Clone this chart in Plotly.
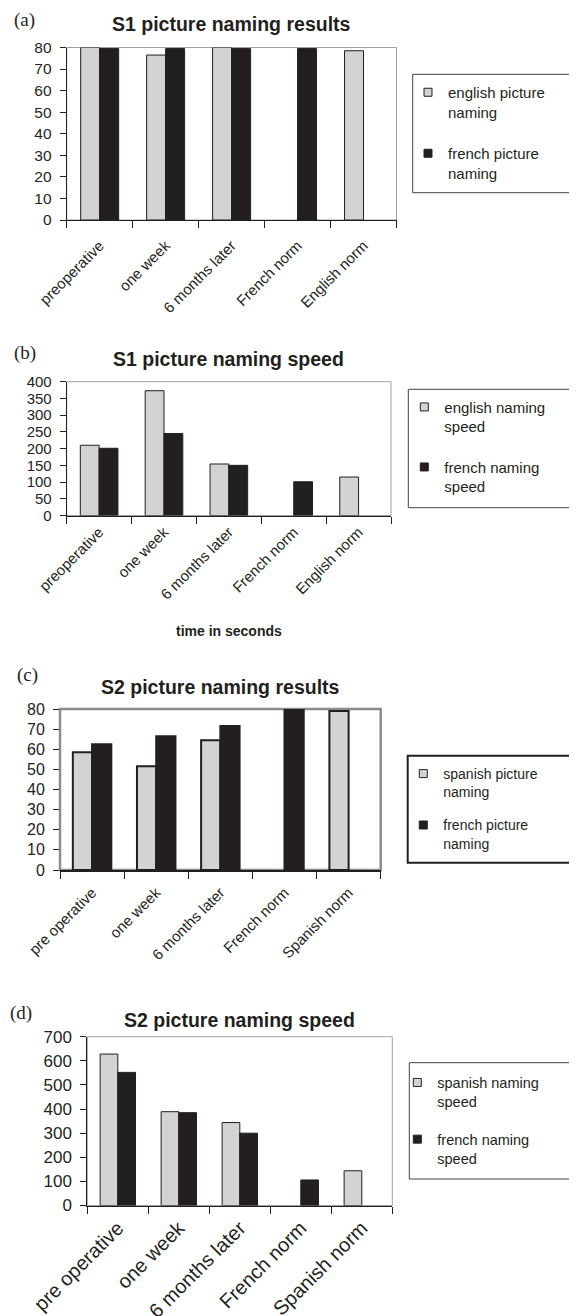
import plotly.graph_objects as go

W, H = 577, 1316
OFF = 8  # page body margin

# ---------------- data ----------------
cats_s1 = ["preoperative", "one week", "6 months later", "French norm", "English norm"]
cats_s2 = ["pre operative", "one week", "6 months later", "French norm", "Spanish norm"]

s1_english_naming = [80, 76.5, 80, None, 78.5]
s1_french_naming = [79.5, 79.5, 79.5, 79.5, None]

s1_english_speed = [210, 373, 154, None, 115]
s1_french_speed = [201, 245, 150, 101, None]

s2_spanish_naming = [58.5, 51.5, 64.5, None, 79]
s2_french_naming = [62.5, 66.5, 71.5, 80, None]

s2_spanish_speed = [628, 389, 344, None, 144]
s2_french_speed = [552, 385, 300, 106, None]

GREY = "#d1d3d4"
DARK = "#231f20"
TXT = "#231f20"
SANS = "Liberation Sans, Arial, sans-serif"
SERIF = "Liberation Serif, Times New Roman, serif"


def px_x(v):
    return (v - OFF) / W


def px_y(v):
    return 1 - (v - OFF) / H


panels = [
    dict(idx=1, cats=cats_s1, a=s1_english_naming, b=s1_french_naming,
         names=("english picture<br>naming", "french picture<br>naming"),
         box=(66.7, 47.5, 396.5, 220), yr=80, dt=10,
         title="S1 picture naming results", tx=231.6, ty=24,
         lab="(a)", lx=24, ly=20,
         leg=(412.7, 74.3, 600, 192.7), legx=408, legy=76, legf=15, lgap=19,
         ytf=15.5, xtf=15, xso=10, barw=1, border=("#a0a0a0", 1), ylinegrey=False,
         bw=0.288),
    dict(idx=2, cats=cats_s1, a=s1_english_speed, b=s1_french_speed,
         names=("english naming<br>speed", "french naming<br>speed"),
         box=(66.7, 381.7, 391, 515.5), yr=400, dt=50,
         title="S1 picture naming speed", tx=228.9, ty=358.5,
         lab="(b)", lx=24.5, ly=353,
         leg=(408.3, 389.3, 600, 507.7), legx=404.3, legy=390.7, legf=15, lgap=18,
         ytf=15, xtf=15, xso=1, barw=1, border=("#a0a0a0", 1), ylinegrey=False,
         bw=0.29),
    dict(idx=3, cats=cats_s2, a=s2_spanish_naming, b=s2_french_naming,
         names=("spanish picture<br>naming", "french picture<br>naming"),
         box=(60, 709, 380.7, 870), yr=80, dt=10,
         title="S2 picture naming results", tx=220.4, ty=686.5,
         lab="(c)", lx=27, ly=675,
         leg=(407.7, 755.7, 572.3, 862.7), legx=403.3, legy=758, legf=14, lgap=12,
         ytf=16, xtf=15, xso=6, barw=2, border=("#8c8c8c", 2.5), ylinegrey=True,
         bw=0.30),
    dict(idx=4, cats=cats_s2, a=s2_spanish_speed, b=s2_french_speed,
         names=("spanish naming<br>speed", "french naming<br>speed"),
         box=(87.3, 1036.7, 392.3, 1205.5), yr=700, dt=100,
         title="S2 picture naming speed", tx=239.8, ty=1020,
         lab="(d)", lx=20.5, ly=1013,
         leg=(409.3, 1062.7, 600, 1179), legx=397.3, legy=1066.5, legf=14.5, lgap=16,
         ytf=17, xtf=20, xso=2, barw=1, border=("#a0a0a0", 1), ylinegrey=False,
         bw=0.29),
]

fig = go.Figure()
layout = dict(
    width=W, height=H, autosize=False,
    margin=dict(l=0, r=0, t=0, b=0, autoexpand=False),
    paper_bgcolor="white", plot_bgcolor="rgba(0,0,0,0)",
    barmode="group", font=dict(family=SANS, color=TXT),
    shapes=[], annotations=[], showlegend=True,
)

for p in panels:
    i = p["idx"]
    sx = "" if i == 1 else str(i)
    xa, ya = "x" + sx, "y" + sx
    legname = "legend" + sx
    x0, y0, x1, y1 = p["box"]
    w = p["bw"]

    fig.add_trace(go.Bar(x=p["cats"], y=p["a"], xaxis=xa, yaxis=ya, width=w, offset=-w,
                         marker=dict(color=GREY, line=dict(color=DARK, width=p["barw"])),
                         showlegend=False, hoverinfo="skip"))
    fig.add_trace(go.Bar(x=p["cats"], y=p["b"], xaxis=xa, yaxis=ya, width=w, offset=0,
                         marker=dict(color=DARK, line=dict(color=DARK, width=p["barw"])),
                         showlegend=False, hoverinfo="skip"))
    # legend entries
    for nm, col, grp in ((p["names"][0], GREY, "a"), (p["names"][1], DARK, "b")):
        fig.add_trace(go.Scatter(x=[p["cats"][0]], y=[None], xaxis=xa, yaxis=ya,
                                 mode="markers", name=nm, legend=legname,
                                 legendgroup=f"{i}{grp}",
                                 marker=dict(symbol="square", size=8, color=col,
                                             line=dict(color=DARK, width=1)),
                                 hoverinfo="skip"))

    layout["xaxis" + sx] = dict(
        domain=[px_x(x0), px_x(x1)], anchor=ya, type="category",
        range=[-0.5, 4.5], showline=True, linecolor=DARK,
        linewidth=2 if i == 3 else 1, ticks="outside", tickson="boundaries",
        ticklen=7, tickcolor=DARK, tickwidth=1, tickangle=-45,
        ticklabelstandoff=p["xso"],
        tickfont=dict(size=p["xtf"], family=SANS, color=TXT),
        showgrid=False, zeroline=False, fixedrange=True, automargin=False,
    )
    layout["yaxis" + sx] = dict(
        domain=[px_y(y1), px_y(y0)], anchor=xa, range=[0, p["yr"]],
        dtick=p["dt"], tick0=0, showline=not p["ylinegrey"], linecolor=DARK,
        linewidth=1, ticks="outside", ticklen=6, tickcolor=DARK,
        ticklabelstandoff=5,
        tickfont=dict(size=p["ytf"], family=SANS, color=TXT),
        showgrid=False, zeroline=False, fixedrange=True, automargin=False,
    )
    layout[legname] = dict(
        x=px_x(p["legx"]), y=px_y(p["legy"]), xanchor="left", yanchor="top",
        xref="paper", yref="paper",
        bgcolor="rgba(0,0,0,0)", borderwidth=0,
        font=dict(size=p["legf"], family=SANS, color=TXT),
        traceorder="grouped", tracegroupgap=p["lgap"], valign="top",
    )
    # plot area border
    bc, bwid = p["border"]
    layout["shapes"].append(dict(type="rect", xref="paper", yref="paper",
                                 x0=px_x(x0), x1=px_x(x1), y0=px_y(y1), y1=px_y(y0),
                                 line=dict(color=bc, width=bwid), layer="below"))
    # legend box
    lx0, ly0, lx1, ly1 = p["leg"]
    layout["shapes"].append(dict(type="rect", xref="paper", yref="paper",
                                 x0=px_x(lx0), x1=px_x(lx1), y0=px_y(ly1), y1=px_y(ly0),
                                 line=dict(color=DARK if i == 3 else "#444444",
                                           width=2 if i == 3 else 1)))
    # title
    layout["annotations"].append(dict(text="<b>" + p["title"] + "</b>", x=px_x(p["tx"]),
                                      y=px_y(p["ty"]), xref="paper", yref="paper",
                                      xanchor="center", yanchor="middle", showarrow=False,
                                      font=dict(size=19.5, family=SANS, color=TXT)))
    # panel label
    layout["annotations"].append(dict(text=p["lab"], x=px_x(p["lx"]), y=px_y(p["ly"]),
                                      xref="paper", yref="paper", xanchor="center",
                                      yanchor="middle", showarrow=False,
                                      font=dict(size=19, family=SERIF, color=TXT)))

layout["annotations"].append(dict(text="<b>time in seconds</b>", x=px_x(228.9), y=px_y(631),
                                  xref="paper", yref="paper", xanchor="center",
                                  yanchor="middle", showarrow=False,
                                  font=dict(size=14, family=SANS, color=TXT)))

fig.update_layout(**layout)
fig.write_html("out.html")
